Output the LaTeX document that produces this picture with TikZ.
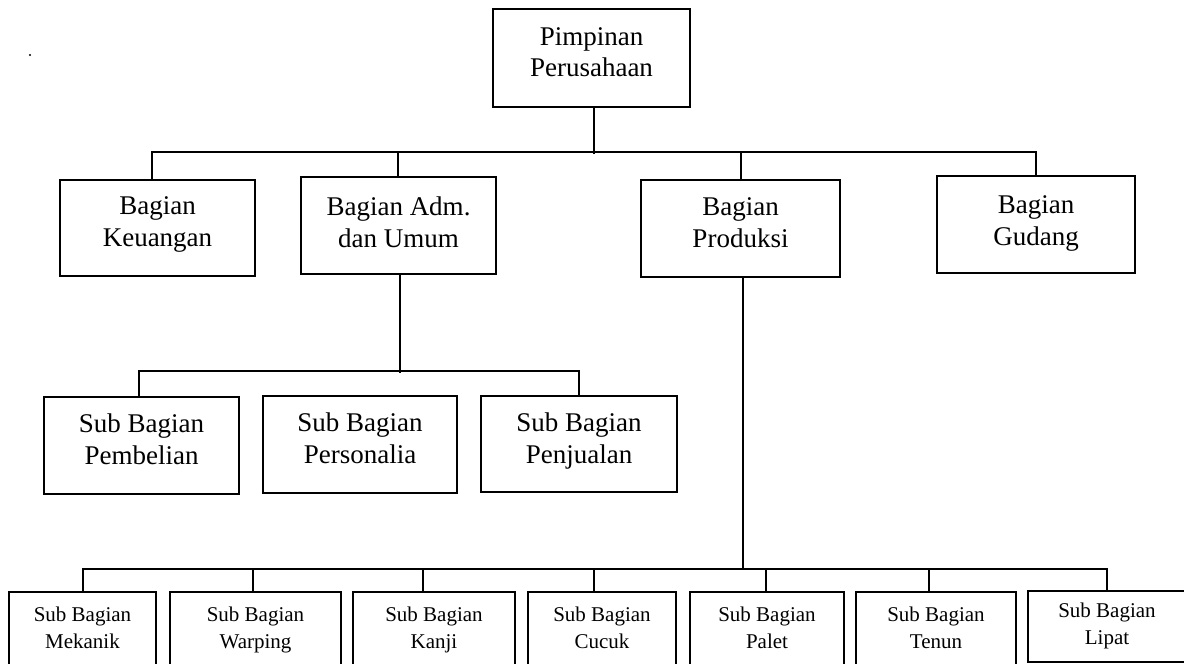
\documentclass[tikz,border=0pt]{standalone}
\usepackage{fontspec}
\setmainfont{Liberation Serif}
\newcommand\fbig{\fontsize{27}{32}\selectfont}
\newcommand\ftop{\fontsize{27}{31}\selectfont}
\newcommand\fsmall{\fontsize{21}{27}\selectfont}
\newcommand\dpfix[1]{\rule[-#1pt]{0pt}{#1pt}}
\begin{document}
\begin{tikzpicture}[x=1pt,y=-1pt,
  box/.style={draw, line width=2pt, inner sep=0pt, align=center, font=\fbig},
  sbox/.style={draw, line width=1.8pt, inner sep=0pt, align=center, font=\fsmall,
     minimum height=76pt},
  conn/.style={line width=2pt}]
\useasboundingbox (0,0) rectangle (1184,664);
\clip (0,0) rectangle (1184,664);
\fill (30,55) circle (1.1);
% level 0
\node[box, font=\ftop, minimum width=197pt, minimum height=98pt] (top) at (591.5,58) {Pimpinan\\Perusahaan\dpfix{12}};
% level 1
\node[box, minimum width=195pt, minimum height=96pt] (keu) at (157.5,228) {Bagian\\Keuangan\dpfix{12}};
\node[box, minimum width=195pt, minimum height=97pt] (adm) at (398.5,225.5) {Bagian Adm.\\dan Umum\dpfix{7}};
\node[box, minimum width=199pt, minimum height=97pt] (prod) at (740.5,228.5) {Bagian\\Produksi\dpfix{12}};
\node[box, minimum width=198pt, minimum height=97pt] (gud) at (1036,224.5) {Bagian\\Gudang\dpfix{7}};
% level 2
\node[box, minimum width=195pt, minimum height=97pt] (pem) at (141.5,445.5) {Sub Bagian\\Pembelian\dpfix{12}};
\node[box, minimum width=194pt, minimum height=97pt] (per) at (360,444.5) {Sub Bagian\\Personalia\dpfix{12}};
\node[box, minimum width=196pt, minimum height=96pt] (pen) at (579,444) {Sub Bagian\\Penjualan\dpfix{12}};
% level 3
\node[sbox, minimum width=147pt] (mek) at (82.5,630) {Sub Bagian\\Mekanik\dpfix{5}};
\node[sbox, minimum width=171pt] (war) at (255.5,630) {Sub Bagian\\Warping\dpfix{5}};
\node[sbox, minimum width=162pt] (kan) at (434,630) {Sub Bagian\\Kanji\dpfix{5}};
\node[sbox, minimum width=148pt] (cuc) at (602,630) {Sub Bagian\\Cucuk\dpfix{5}};
\node[sbox, minimum width=154pt] (pal) at (767,630) {Sub Bagian\\Palet\dpfix{5}};
\node[sbox, minimum width=160pt] (ten) at (936,630) {Sub Bagian\\Tenun\dpfix{5}};
\node[sbox, minimum width=158pt, minimum height=71pt] (lip) at (1107,626.5) {Sub Bagian\\Lipat\dpfix{5}};
% connectors level 0 -> 1
\draw[conn] ([xshift=2.5pt]top.south) -- ++(0,46);
\draw[conn] ([xshift=-5.5pt]keu.north) -- ++(0,-27) -| (gud.north);
\draw[conn] ([xshift=-0.5pt]adm.north) -- ++(0,-24);
\draw[conn] ([xshift=0.5pt]prod.north) -- ++(0,-27);
% connectors adm -> level 2
\draw[conn] ([xshift=1.5pt]adm.south) -- ++(0,98);
\draw[conn] ([xshift=-2.5pt]pem.north) -- ++(0,-25) -| (pen.north);
% connectors prod -> level 3
\draw[conn] ([xshift=2.5pt]prod.south) -- ++(0,292);
\draw[conn] ([xshift=0.5pt]mek.north) -- ++(0,-22) -| (lip.north);
\draw[conn] ([xshift=-2.5pt]war.north) -- ++(0,-22);
\draw[conn] ([xshift=-11pt]kan.north) -- ++(0,-22);
\draw[conn] ([xshift=-8pt]cuc.north) -- ++(0,-22);
\draw[conn] ([xshift=-1pt]pal.north) -- ++(0,-22);
\draw[conn] ([xshift=-7pt]ten.north) -- ++(0,-22);
\end{tikzpicture}
\end{document}
